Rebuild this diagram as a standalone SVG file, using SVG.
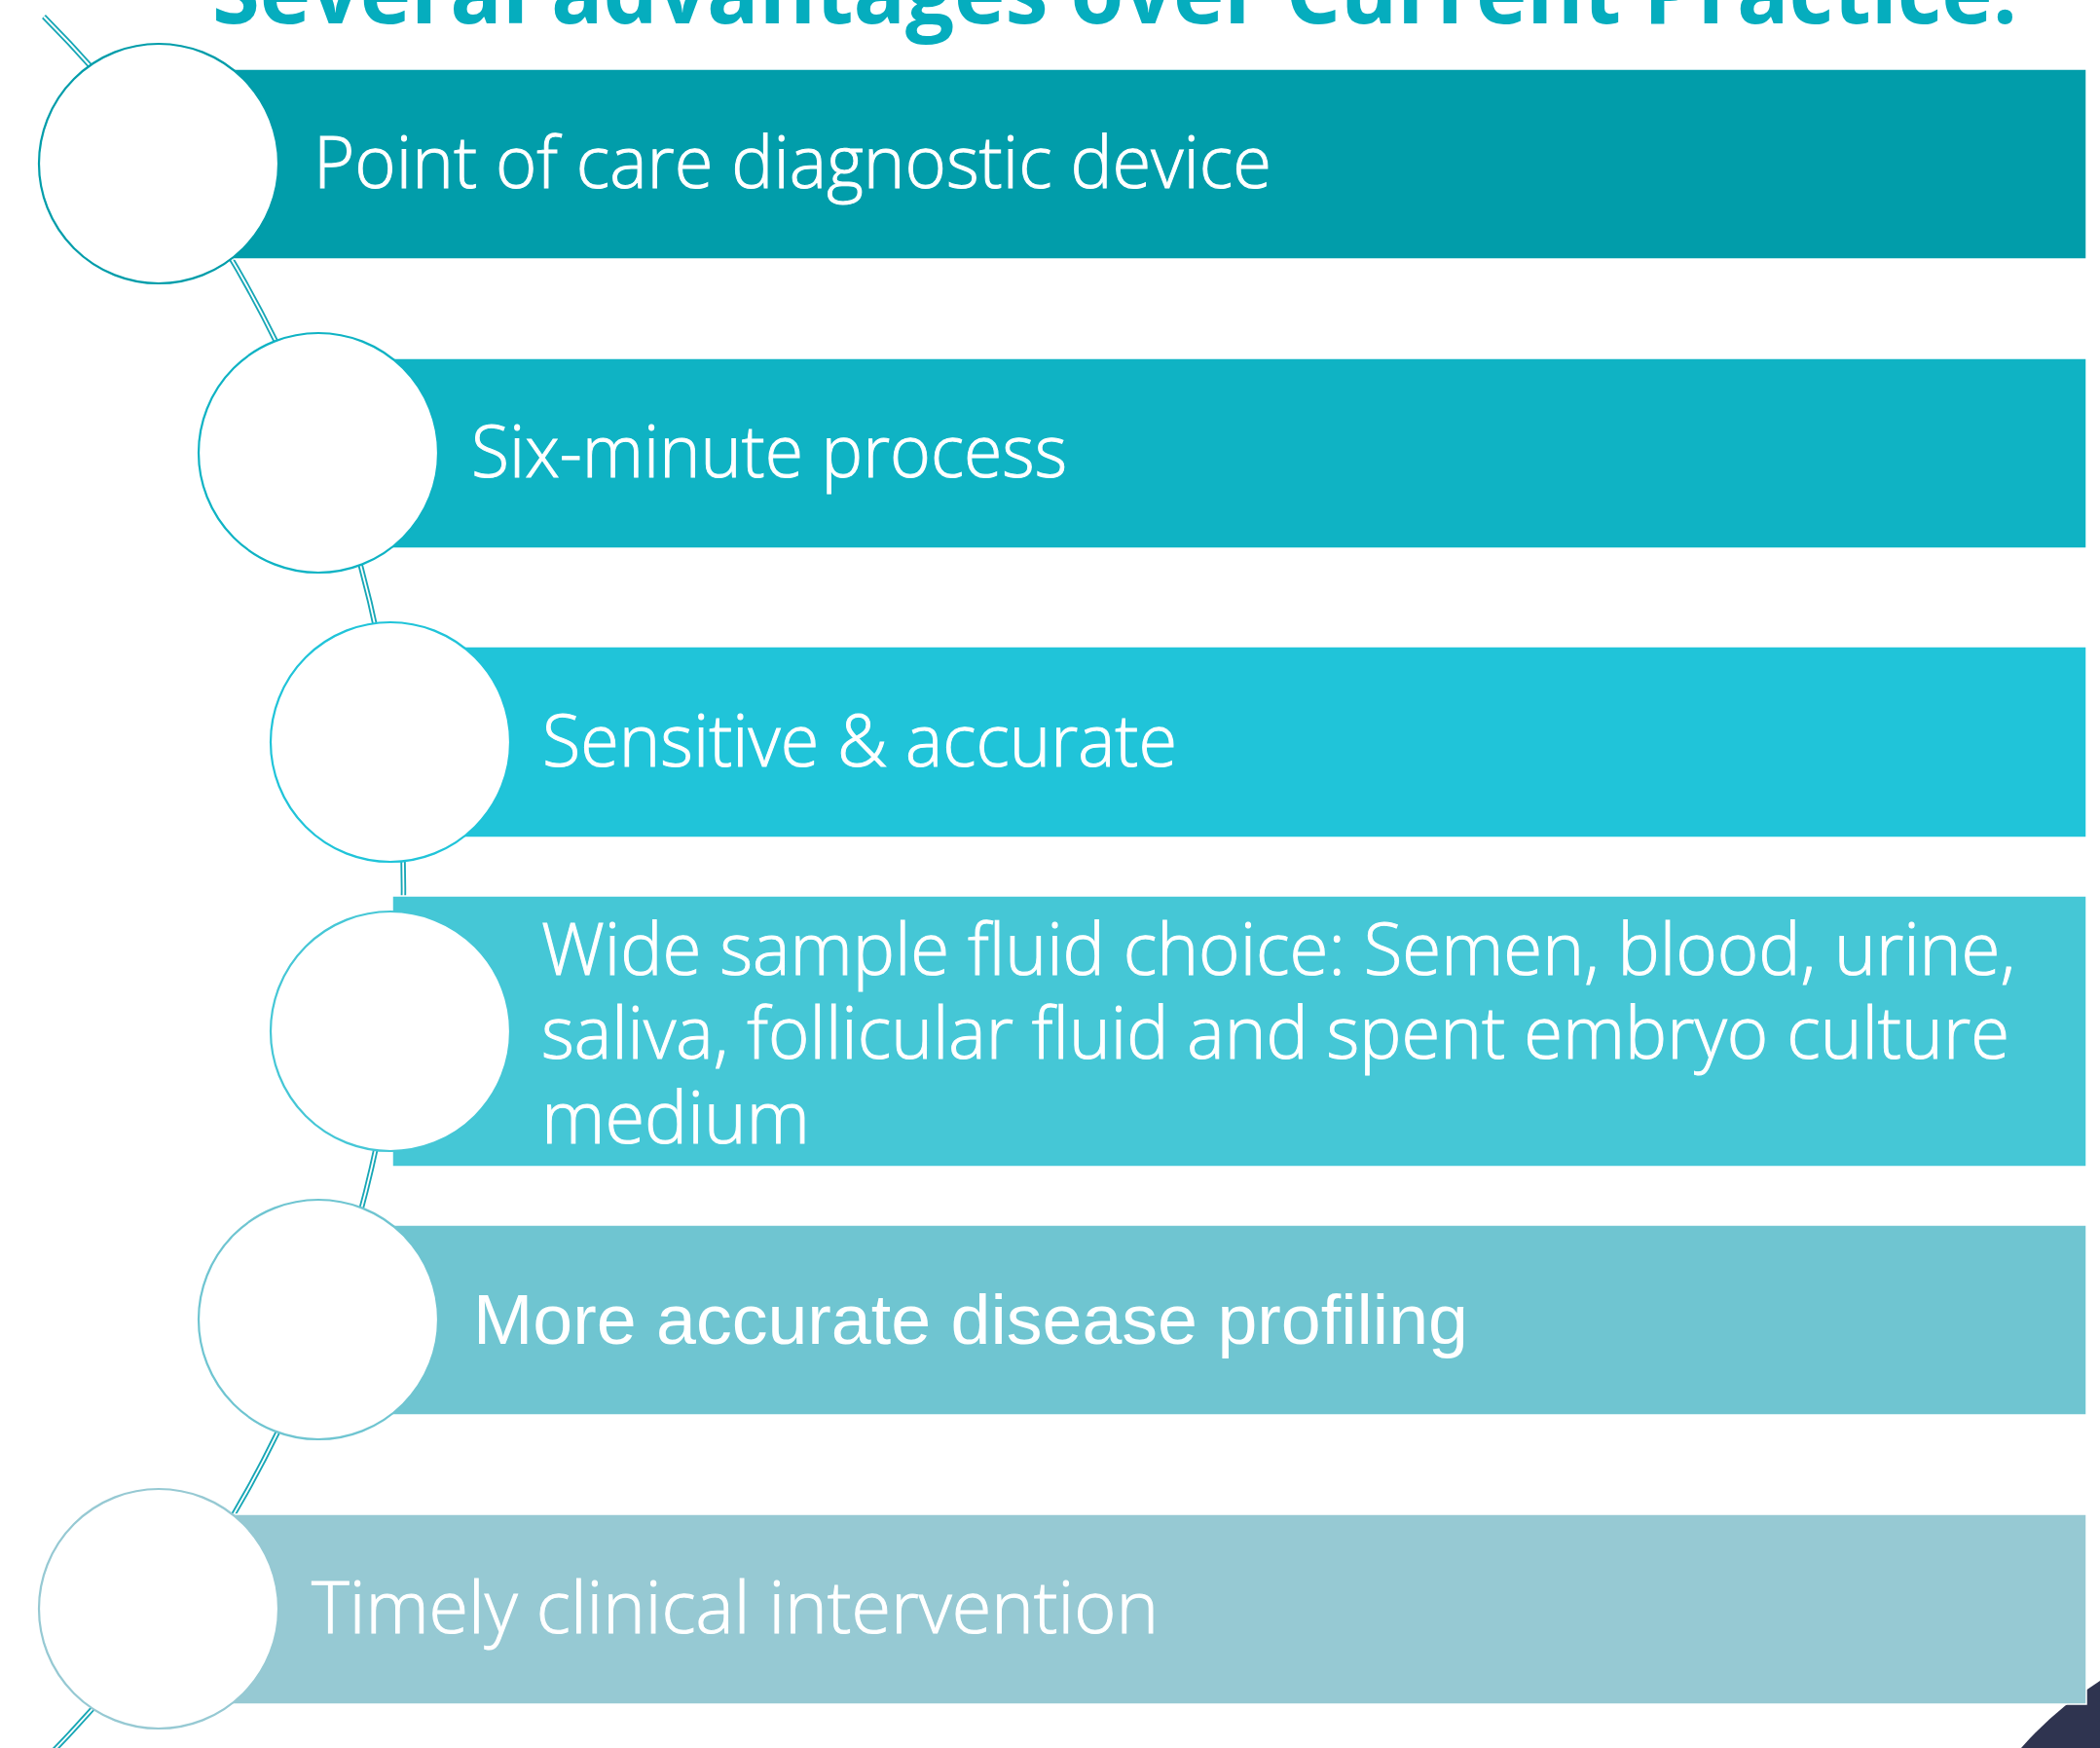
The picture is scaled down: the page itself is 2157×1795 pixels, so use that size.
<svg xmlns="http://www.w3.org/2000/svg" width="2157" height="1795" viewBox="0 0 2157 1795">
<style>
.lbl{font-family:"Open Sans","Noto Sans","Liberation Sans",sans-serif;font-weight:300;font-size:73px;fill:#ffffff;stroke:#ffffff;stroke-width:1}
.arial{font-family:"Liberation Sans",Arial,sans-serif;font-weight:400;font-size:73px;fill:#ffffff}
.title{font-family:"Open Sans","Noto Sans","Liberation Sans",sans-serif;font-weight:700;font-size:92px;fill:#05ADBE}
.bar{stroke:#ffffff;stroke-width:1.5}
.dot{fill:#ffffff;stroke-width:2.2}
</style>
<rect width="2157" height="1795" fill="#ffffff"/>
<path d="M2076,1795 Q2110,1756 2157,1726 L2157,1795 Z" fill="#2F3450"/>
<text class="title" x="218" y="24" textLength="1854" lengthAdjust="spacingAndGlyphs">Several advantages over Current Practice.</text>
<g id="connectors">
<path d="M45,17 A1270,1270 0 0 1 41,1812" fill="none" stroke="#17A7B6" stroke-width="5.5"/>
<path d="M45,17 A1270,1270 0 0 1 41,1812" fill="none" stroke="#ffffff" stroke-width="1.8"/>
</g>
<g id="node1">
<rect class="bar" x="163" y="71" width="1980" height="195" fill="#019DAA"/>
<circle class="dot" cx="163" cy="168" r="123" stroke="#019DAA"/>
<text class="lbl" x="322" y="193" textLength="984" lengthAdjust="spacingAndGlyphs">Point of care diagnostic device</text>
</g>
<g id="node2">
<rect class="bar" x="327" y="368" width="1816" height="195" fill="#0FB3C4"/>
<circle class="dot" cx="327" cy="465" r="123" stroke="#0FB3C4"/>
<text class="lbl" x="484" y="490" textLength="612" lengthAdjust="spacingAndGlyphs">Six-minute process</text>
</g>
<g id="node3">
<rect class="bar" x="401" y="664" width="1742" height="196" fill="#20C4D9"/>
<circle class="dot" cx="401" cy="762" r="123" stroke="#20C4D9"/>
<text class="lbl" x="557" y="787" textLength="652" lengthAdjust="spacingAndGlyphs">Sensitive &amp; accurate</text>
</g>
<g id="node4">
<rect class="bar" x="403" y="920" width="1740" height="278" fill="#45C7D6"/>
<circle class="dot" cx="401" cy="1059" r="123" stroke="#45C7D6"/>
<text class="lbl" x="556" y="1001" textLength="1514" lengthAdjust="spacingAndGlyphs">Wide sample fluid choice: Semen, blood, urine,</text>
<text class="lbl" x="556" y="1087" textLength="1508" lengthAdjust="spacingAndGlyphs">saliva, follicular fluid and spent embryo culture</text>
<text class="lbl" x="556" y="1174" textLength="276" lengthAdjust="spacingAndGlyphs">medium</text>
</g>
<g id="node5">
<rect class="bar" x="327" y="1258" width="1816" height="195" fill="#6FC5D1"/>
<circle class="dot" cx="327" cy="1355" r="123" stroke="#6FC5D1"/>
<text class="arial" x="486" y="1380" textLength="1022" lengthAdjust="spacingAndGlyphs">More accurate disease profiling</text>
</g>
<g id="node6">
<rect class="bar" x="163" y="1555" width="1980" height="195" fill="#96C9D3"/>
<circle class="dot" cx="163" cy="1652" r="123" stroke="#96C9D3"/>
<text class="lbl" x="320" y="1677" textLength="870" lengthAdjust="spacingAndGlyphs">Timely clinical intervention</text>
</g>
</svg>
